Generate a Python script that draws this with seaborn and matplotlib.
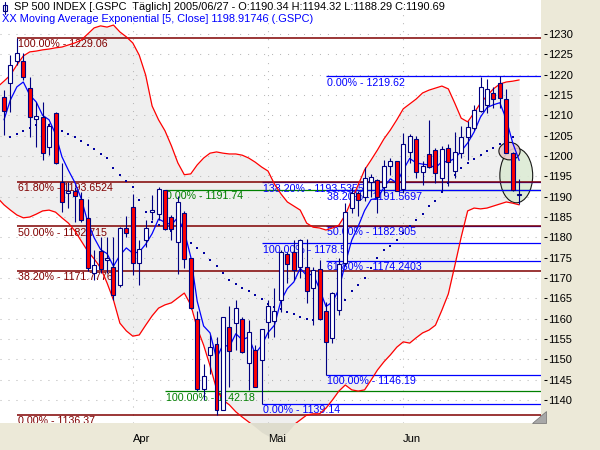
import numpy as np
import matplotlib
matplotlib.use("Agg")
import matplotlib.pyplot as plt
import seaborn as sns
from matplotlib.patches import Rectangle, Ellipse, Polygon
from matplotlib.lines import Line2D
from matplotlib.transforms import offset_copy

# daily bars, 2005-03-03 .. 2005-06-27 (bar index 0..80)
opens = [1214.6, 1217.9, 1223.4, 1223.4, 1216.6, 1209.0, 1209.5, 1202.1, 1210.5, 1193.7,
         1190.9, 1191.3, 1189.4, 1184.7, 1171.2, 1176.7, 1174.4, 1172.8, 1168.3, 1182.2,
         1187.5, 1173.6, 1179.3, 1186.3, 1185.7, 1191.75, 1185.1, 1178.9, 1185.9, 1174.8,
         1160.0, 1142.6, 1151.1, 1153.7, 1137.5, 1158.0, 1158.9, 1159.8, 1149.2, 1152.3,
         1149.8, 1159.1, 1159.5, 1164.6, 1175.9, 1176.5, 1172.8, 1172.8, 1167.5, 1172.1,
         1162.0, 1155.2, 1162.1, 1173.8, 1187.1, 1191.0, 1190.0, 1193.5, 1194.0, 1192.5,
         1197.6, 1198.8, 1192.0, 1201.1, 1204.3, 1196.0, 1200.5, 1201.5, 1194.5, 1201.9,
         1196.2, 1200.8, 1204.6, 1207.0, 1211.0, 1212.5, 1215.4, 1217.9, 1213.9, 1200.7,
         1190.34]
highs = [1216.2, 1224.8, 1229.06, 1225.3, 1219.5, 1213.4, 1213.4, 1208.0, 1210.9, 1198.4,
         1193.7, 1192.5, 1191.2, 1189.5, 1176.9, 1180.0, 1180.2, 1180.1, 1182.5, 1185.3,
         1190.6, 1179.3, 1184.3, 1190.4, 1192.5, 1191.75, 1185.5, 1190.2, 1186.5, 1175.0,
         1162.0, 1148.9, 1156.0, 1155.5, 1160.5, 1163.0, 1164.6, 1160.5, 1159.6, 1153.5,
         1157.4, 1164.6, 1167.5, 1176.8, 1176.5, 1179.3, 1179.7, 1179.5, 1172.8, 1174.4,
         1164.2, 1166.5, 1174.8, 1188.5, 1192.4, 1191.5, 1197.4, 1195.5, 1194.3, 1199.0,
         1199.6, 1198.8, 1205.6, 1205.5, 1205.0, 1198.8, 1208.8, 1202.0, 1202.5, 1203.0,
         1206.0, 1207.5, 1208.5, 1212.5, 1219.5, 1219.0, 1217.0, 1219.62, 1216.4, 1201.0,
         1194.32]
lows = [1205.2, 1210.9, 1222.4, 1218.8, 1204.7, 1202.1, 1199.0, 1200.2, 1198.0, 1186.3,
        1187.1, 1183.8, 1183.8, 1171.8, 1169.5, 1171.2, 1171.2, 1164.6, 1167.8, 1180.2,
        1170.7, 1168.3, 1177.7, 1184.3, 1184.3, 1181.7, 1179.3, 1171.0, 1172.4, 1162.3,
        1142.18, 1140.0, 1146.5, 1136.37, 1137.5, 1143.3, 1152.3, 1151.5, 1142.5, 1143.2,
        1139.14, 1155.2, 1155.6, 1161.7, 1168.7, 1169.5, 1169.9, 1163.8, 1158.4, 1159.6,
        1146.19, 1154.1, 1160.9, 1173.0, 1186.0, 1185.2, 1189.0, 1189.9, 1186.0, 1190.5,
        1195.3, 1191.5, 1191.0, 1198.4, 1194.5, 1192.8, 1197.0, 1193.3, 1191.5, 1192.6,
        1194.5, 1199.5, 1199.0, 1206.5, 1210.9, 1210.6, 1211.9, 1211.7, 1200.7, 1191.4,
        1188.29]
closes = [1211.1, 1222.4, 1225.3, 1219.5, 1209.7, 1209.8, 1200.7, 1207.4, 1198.4, 1188.8,
          1191.5, 1190.2, 1184.3, 1172.4, 1173.2, 1172.2, 1175.0, 1165.8, 1182.2, 1181.1,
          1173.6, 1177.1, 1182.2, 1186.8, 1191.8, 1182.0, 1182.0, 1188.6, 1174.6, 1162.6,
          1142.6, 1146.0, 1153.1, 1137.5, 1160.5, 1152.0, 1162.6, 1151.9, 1156.8, 1143.3,
          1157.4, 1163.0, 1162.0, 1176.5, 1173.4, 1172.0, 1179.3, 1166.9, 1172.0, 1159.8,
          1154.3, 1166.2, 1173.5, 1186.3, 1190.8, 1189.3, 1194.5, 1194.8, 1190.0, 1197.6,
          1198.8, 1191.5, 1203.0, 1204.9, 1196.0, 1197.5, 1197.3, 1195.7, 1201.6, 1198.5,
          1201.0, 1204.7, 1207.2, 1211.2, 1217.0, 1216.4, 1213.9, 1214.2, 1200.73, 1191.57,
          1190.69]

month_ticks = [20, 41, 62]
month_labels = ["Apr", "Mai", "Jun"]

# EMA(5) of close, bars 0..80
ema5 = [1208.9, 1213.8, 1217.0, 1218.2, 1215.0, 1213.3, 1210.0, 1208.9, 1205.4, 1199.8,
        1196.5, 1193.5, 1189.5, 1183.8, 1179.9, 1177.0, 1176.0, 1172.9, 1175.6, 1177.4,
        1176.1, 1176.4, 1178.3, 1180.9, 1184.5, 1183.7, 1183.1, 1184.9, 1181.5, 1175.2,
        1164.3, 1158.2, 1156.5, 1150.2, 1153.6, 1153.1, 1156.3, 1154.8, 1155.5, 1151.4,
        1153.4, 1156.6, 1158.4, 1164.4, 1167.4, 1169.0, 1172.4, 1170.6, 1171.0, 1167.3,
        1163.0, 1164.1, 1167.2, 1173.6, 1179.3, 1182.7, 1186.6, 1189.3, 1189.6, 1192.3,
        1194.4, 1193.4, 1196.6, 1199.4, 1198.3, 1198.0, 1197.8, 1197.1, 1198.6, 1198.6,
        1199.4, 1201.2, 1203.2, 1205.9, 1209.6, 1211.9, 1212.6, 1213.1, 1209.0, 1203.2,
        1198.91746]

# middle band (dotted), bars 1..79
mid_band = [1204.7, 1205.4, 1206.1, 1206.9, 1207.6, 1207.9, 1207.6, 1207.1, 1206.1, 1205.4,
            1204.7, 1203.7, 1202.7, 1201.8, 1200.5, 1199.5, 1197.1, 1195.3, 1193.9, 1192.4,
            1189.2, 1186.2, 1183.8, 1183.0, 1182.3, 1181.5, 1180.8, 1179.8, 1178.6, 1177.4,
            1176.1, 1174.4, 1172.9, 1171.2, 1169.5, 1168.5, 1167.5, 1166.8, 1165.8, 1164.8,
            1163.6, 1162.9, 1162.4, 1161.6, 1161.2, 1160.4, 1159.9, 1159.7, 1160.2, 1160.9,
            1161.6, 1163.1, 1164.6, 1166.8, 1168.3, 1170.0, 1172.5, 1174.9, 1176.9, 1177.9,
            1179.3, 1181.1, 1182.8, 1184.3, 1185.7, 1187.7, 1188.9, 1191.2, 1193.4, 1195.3,
            1197.1, 1198.3, 1199.3, 1200.2, 1201.2, 1202.0, 1203.0, 1203.7, 1204.7]

# bollinger bands, bars -1..80
upper_band = [1217.0, 1218.4, 1219.9, 1222.4, 1224.6, 1225.6, 1225.8, 1226.1, 1226.3, 1226.6,
              1226.8, 1227.3, 1227.8, 1228.5, 1230.0, 1231.5, 1232.0, 1231.7, 1232.2, 1230.5,
              1229.3, 1227.8, 1224.8, 1219.9, 1212.3, 1208.9, 1206.2, 1202.5, 1198.3, 1195.4,
              1195.6, 1197.8, 1199.5, 1200.7, 1201.0, 1200.7, 1200.5, 1200.5, 1200.2, 1199.5,
              1198.5, 1197.3, 1196.3, 1193.1, 1190.7, 1188.7, 1187.7, 1186.7, 1183.5, 1182.5,
              1182.3, 1181.8, 1182.3, 1183.0, 1185.5, 1189.2, 1192.9, 1196.6, 1199.0, 1201.5,
              1204.2, 1206.4, 1208.9, 1211.6, 1212.8, 1214.0, 1215.5, 1216.2, 1216.7, 1217.2,
              1216.5, 1213.0, 1209.3, 1208.4, 1210.6, 1213.0, 1214.8, 1216.5, 1217.7, 1218.2,
              1218.4, 1218.7]
lower_band = [1189.7, 1188.0, 1186.7, 1185.5, 1184.8, 1185.0, 1185.7, 1186.5, 1186.7, 1186.2,
              1184.8, 1183.5, 1181.6, 1179.1, 1176.6, 1174.7, 1172.5, 1168.8, 1164.6, 1158.9,
              1157.0, 1155.7, 1156.0, 1158.4, 1160.7, 1162.6, 1163.4, 1163.9, 1165.1, 1166.3,
              1163.4, 1157.7, 1153.5, 1148.4, 1142.7, 1140.0, 1138.8, 1137.1, 1135.8, 1134.6,
              1133.4, 1132.1, 1131.2, 1130.9, 1130.9, 1132.1, 1133.9, 1135.1, 1136.3, 1136.6,
              1136.6, 1138.0, 1140.0, 1142.2, 1143.7, 1142.5, 1142.2, 1142.5, 1144.9, 1147.4,
              1149.4, 1151.1, 1153.0, 1154.3, 1154.0, 1155.3, 1156.5, 1157.2, 1158.4, 1162.1,
              1166.1, 1173.0, 1180.1, 1186.5, 1187.2, 1187.0, 1187.2, 1187.7, 1188.2, 1188.7,
              1188.4, 1188.0]

# fibonacci drawings: (start bar, colour, [(percent, level text)])
fib_green = (25, "#008000", [("0.00%", "1191.74"), ("100.00%", "1142.18")])
fib_blue_a = (40, "#0000FF", [("138.20%", "1193.5355"), ("100.00%", "1178.5"), ("0.00%", "1139.14")])
fib_blue_b = (50, "#0000FF", [("0.00%", "1219.62"), ("38.20%", "1191.5697"), ("50.00%", "1182.905"),
                              ("61.80%", "1174.2403"), ("100.00%", "1146.19")])
fib_red = (2, "#800000", [("100.00%", "1229.06"), ("61.80%", "1193.6524"), ("50.00%", "1182.715"),
                          ("38.20%", "1171.7776"), ("0.00%", "1136.37")])

sns.set_style("white")
plt.rcParams["font.family"] = ["Liberation Sans", "DejaVu Sans"]
plt.rcParams["lines.scale_dashes"] = False

W, H = 600, 450
NAVY = "#000080"
fig = plt.figure(figsize=(6, 4.5), dpi=100, facecolor="#ECE9D8")
ax = fig.add_axes([0, 27 / H, 541 / W, 423 / H])
ax.set_facecolor("white")
XMIN, XMAX = -0.62, 83.39
ax.set_xlim(XMIN, XMAX)
ax.set_ylim(1134.35, 1238.36)

bars = np.arange(len(closes))
band_x = np.arange(-1, len(closes))

# band shading (spills below the plot like the original)
ax.fill_between(band_x, lower_band, upper_band, color="#808080", alpha=0.12,
                linewidth=0, zorder=0.5, clip_on=False)

# dotted grid
for lvl in range(1140, 1235, 5):
    ax.axhline(lvl, color="#B8B8B8", lw=0.75, ls=(0, (0.75, 5)), zorder=0.6)
for t in month_ticks:
    ax.axvline(t, color="#B8B8B8", lw=0.75, ls=(0, (0.75, 5)), zorder=0.6)

# ellipses drawn by the user
ax.add_patch(Ellipse((79.55, 1195.2), 5.1, 13.4, facecolor="#DCEAD4", edgecolor="black",
                     lw=0.8, alpha=0.9, zorder=0.9))
ax.add_patch(Ellipse((78.5, 1201.2), 3.3, 4.3, facecolor="#E9CACA", edgecolor="black",
                     lw=0.8, alpha=0.9, zorder=0.95))

# fibonacci lines and labels
for start, col, levels in [fib_green, fib_blue_a, fib_blue_b, fib_red]:
    lw = 1.1 if col == "#800000" else 0.9
    for pct, txt in levels:
        val = float(txt)
        ax.hlines(val, start, XMAX, color=col, lw=lw, zorder=1)
        tr = offset_copy(ax.transData, fig=fig, x=1, y=-1.5, units="dots")
        ax.text(start, val, f"{pct} - {txt}", transform=tr, color=col, fontsize=7.7,
                ha="left", va="top", zorder=1.1, clip_on=True)

# bands, ema, middle band
sns.lineplot(x=band_x, y=upper_band, color="#FF0000", linewidth=0.9, ax=ax, zorder=1.5)
sns.lineplot(x=band_x, y=lower_band, color="#FF0000", linewidth=0.9, ax=ax, zorder=1.5)
sns.scatterplot(x=bars[1:80], y=mid_band, marker="s", s=1.0, color="#0000A0",
                linewidth=0, ax=ax, zorder=1.6)
sns.lineplot(x=bars, y=ema5, color="#0000FF", linewidth=0.9, ax=ax, zorder=1.7)

# candles
o = np.array(opens)
c = np.array(closes)
up = c >= o
ax.vlines(bars, lows, highs, color=NAVY, lw=0.8, zorder=2)
ax.bar(bars, np.maximum(np.abs(c - o), 0.2), bottom=np.minimum(o, c), width=0.62,
       color=np.where(up, "white", "#FF0000"), edgecolor=NAVY, linewidth=0.8, zorder=2.1)

# axes styling
for sp in ax.spines.values():
    sp.set_visible(False)
ax.spines["bottom"].set_position(("outward", 3))
ax.spines["right"].set_position(("outward", 2))
ax.yaxis.tick_right()
ax.set_yticks(range(1140, 1235, 5))
ax.tick_params(axis="y", length=2.2, width=0.75, pad=1, labelsize=8, colors="black")
ax.set_xticks(month_ticks)
ax.set_xticklabels(month_labels, ha="left")
ax.tick_params(axis="x", length=3.6, width=0.75, pad=1, labelsize=8, colors="black")
ax.set_xlabel("")
ax.set_ylabel("")

# header
fig.text(14 / W, 1 - 1.5 / H,
         f"SP 500 INDEX [.GSPC  Täglich] 2005/06/27 - O:{opens[-1]:.2f} H:{highs[-1]:.2f} "
         f"L:{lows[-1]:.2f} C:{closes[-1]:.2f}",
         fontsize=7.9, color="black", ha="left", va="top")
fig.text(1.5 / W, 1 - 14.5 / H,
         f"XX Moving Average Exponential [5, Close] {ema5[-1]:.5f} (.GSPC)",
         fontsize=7.9, color="#0000FF", ha="left", va="top")
fig.add_artist(Line2D([4.5 / W, 4.5 / W], [1 - 2 / H, 1 - 14 / H], color=NAVY,
                      lw=0.8, transform=fig.transFigure))
fig.add_artist(Rectangle((2.5 / W, 1 - 10.5 / H), 4 / W, 6 / H, facecolor="white",
                         edgecolor=NAVY, lw=0.8, transform=fig.transFigure))

# little scroll marker at the lower right corner
fig.add_artist(Polygon([(532 / W, 27 / H), (546 / W, 27 / H), (546 / W, 39 / H)],
                       closed=True, facecolor="#A8A8A8", edgecolor="#707070", lw=0.5,
                       transform=fig.transFigure))

fig.savefig("out.png", dpi=100, facecolor=fig.get_facecolor())
